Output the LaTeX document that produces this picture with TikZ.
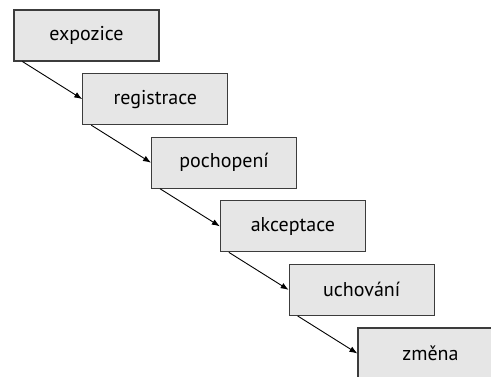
\documentclass[tikz,border=0pt]{standalone}
\usepackage{fontspec}
\setmainfont{PT Sans}
\usetikzlibrary{arrows.meta, positioning}
\definecolor{boxfill}{RGB}{230,230,230}
\definecolor{boxline}{RGB}{60,60,60}

\begin{document}
\begin{tikzpicture}[
  x=1pt, y=1pt,
  every node/.style={font=\fontsize{20}{24}\selectfont, text=black},
  stage/.style={draw=boxline, line width=1.1pt, fill=boxfill,
                minimum width=145pt, minimum height=51pt, inner sep=0pt},
  flow/.style={draw, line width=0.9pt, -{Latex[length=8pt, width=6pt]}},
  node distance=63.6pt and 68.8pt, on grid,
]
\useasboundingbox (0,0) rectangle (491,-376);
\clip (0,0) rectangle (491,-376);

\node[stage] (expozice) at (86.5,-35.5) {expozice};
\node[stage, below right=of expozice] (registrace) {registrace};
\node[stage, below right=of registrace] (pochopeni) {pochopení};
\node[stage, below right=of pochopeni] (akceptace) {akceptace};
\node[stage, below right=of akceptace] (uchovani) {uchování};
\node[stage, below right=of uchovani] (zmena) {změna};

\draw[flow] ([xshift=9pt]expozice.south west) -- (registrace.west);
\draw[flow] ([xshift=9pt]registrace.south west) -- (pochopeni.west);
\draw[flow] ([xshift=9pt]pochopeni.south west) -- (akceptace.west);
\draw[flow] ([xshift=9pt]akceptace.south west) -- (uchovani.west);
\draw[flow] ([xshift=9pt]uchovani.south west) -- (zmena.west);
\end{tikzpicture}
\end{document}
